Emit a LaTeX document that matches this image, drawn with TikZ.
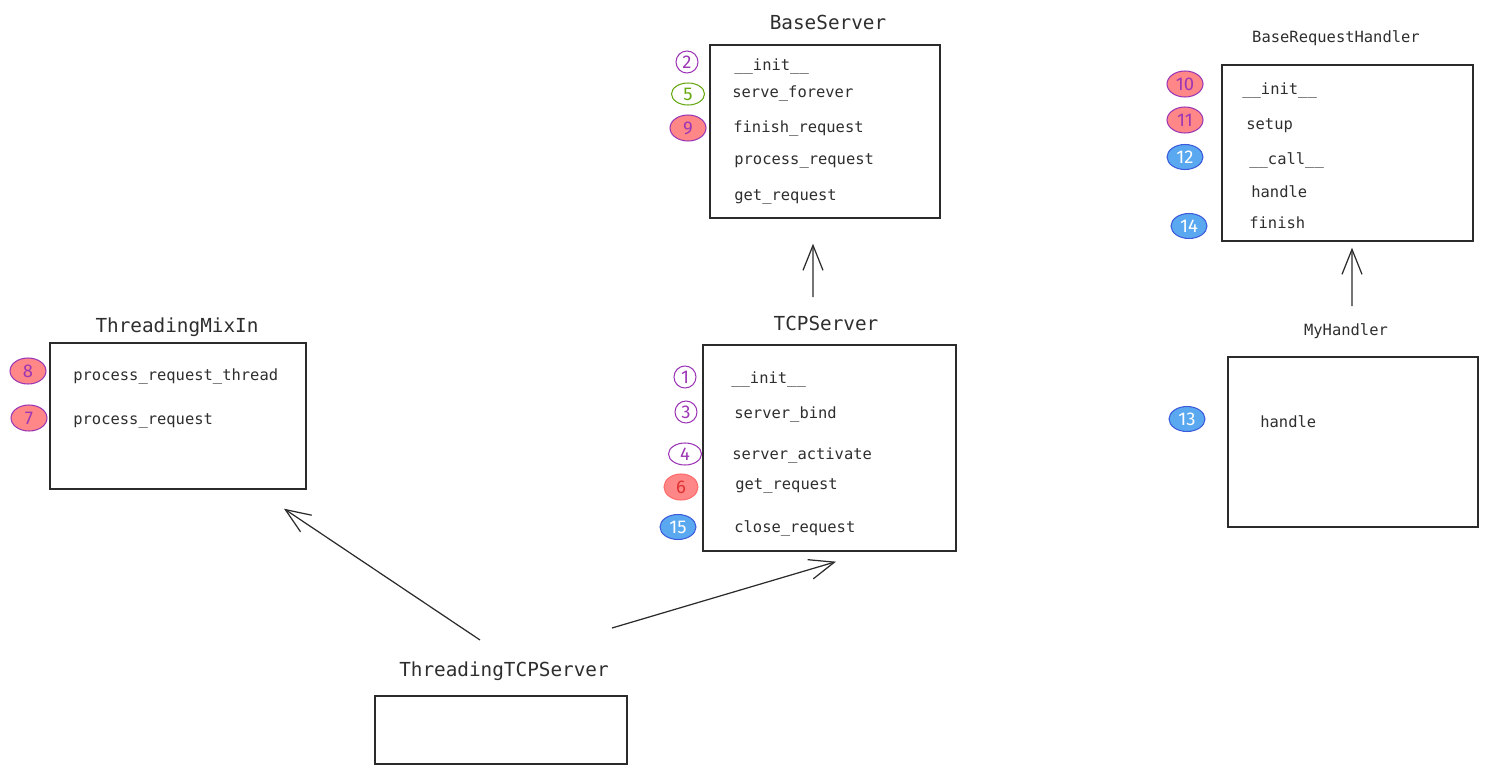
\documentclass[tikz,border=0pt]{standalone}
\usepackage{fontspec}
\setmonofont{DejaVu Sans Mono}
\newfontfamily\numfont{Fira Sans}
\usetikzlibrary{arrows.meta}
\usetikzlibrary{positioning}
\usetikzlibrary{shapes.geometric}

\definecolor{inkgray}{HTML}{2E2E2E}
\definecolor{boxline}{HTML}{2B2B2B}
\definecolor{violetmark}{HTML}{9C36B5}
\definecolor{limemark}{HTML}{66A80F}
\definecolor{salmonfill}{HTML}{FF8787}
\definecolor{redmark}{HTML}{E03131}
\definecolor{bluefill}{HTML}{5AA9F0}
\definecolor{bluemark}{HTML}{3B5BDB}

\begin{document}
\begin{tikzpicture}[x=0.02cm, y=-0.02cm,
    cls/.style={draw=boxline, line width=0.8pt, inner sep=0pt},
    title/.style={text=inkgray, font=\ttfamily\fontsize{11}{13}\selectfont},
    smalltitle/.style={text=inkgray, font=\ttfamily\fontsize{8.8}{11}\selectfont},
    meth/.style={anchor=mid west, inner sep=0pt, yshift=-0.05cm, text=inkgray, font=\ttfamily\fontsize{8.8}{11}\selectfont},
    tagring/.style={ellipse, draw=violetmark, text=violetmark, line width=0.6pt, inner sep=0pt,
        minimum width=0.44cm, minimum height=0.44cm, font=\numfont\fontsize{10.5}{12}\selectfont},
    tagoval/.style={tagring, draw=#1, text=#1, minimum width=0.66cm},
    tagred/.style={tagring, fill=salmonfill, minimum width=0.72cm, minimum height=0.52cm},
    tagblue/.style={tagring, fill=bluefill, draw=bluemark, text=white, minimum width=0.72cm, minimum height=0.5cm},
    link/.style={draw=boxline, line width=0.7pt, -{Straight Barb[length=0.5cm, width=0.4cm]}}]
    \useasboundingbox (0,0) rectangle (1488,774);

    % BaseServer
    \node[title] (baset) at (828,22) {BaseServer};
    \node[cls, minimum width=4.6cm, minimum height=3.46cm] (base) at (825,131.5) {};
    \node[meth] (b1) at (734,64) {\_\_init\_\_};
    \node[meth] (b2) at (732,91) {serve\_forever};
    \node[meth] (b3) at (733,126) {finish\_request};
    \node[meth] (b4) at (734,158) {process\_request};
    \node[meth] (b5) at (734,194) {get\_request};
    \node[tagring] (n2) at (687,62) {2};
    \node[tagoval=limemark] (n5) at (688,94) {5};
    \node[tagred] (n9) at (688,128) {9};

    % BaseRequestHandler
    \node[smalltitle] (brht) at (1336,38) {BaseRequestHandler};
    \node[cls, minimum width=5.02cm, minimum height=3.52cm] (brh) at (1347.5,153) {};
    \node[meth] (h1) at (1242,88) {\_\_init\_\_};
    \node[meth] (h2) at (1246,123) {setup};
    \node[meth] (h3) at (1249,158) {\_\_call\_\_};
    \node[meth] (h4) at (1251,191) {handle};
    \node[meth] (h5) at (1249,222) {finish};
    \node[tagred] (n10) at (1185,84) {10};
    \node[tagred] (n11) at (1185,120) {11};
    \node[tagblue] (n12) at (1185,157) {12};
    \node[tagblue] (n14) at (1189,226) {14};

    % MyHandler
    \node[smalltitle] (myht) at (1346,331) {MyHandler};
    \node[cls, minimum width=5.0cm, minimum height=3.4cm] (myh) at (1353,442) {};
    \node[meth] (m1) at (1260,421) {handle};
    \node[tagblue] (n13) at (1187,419) {13};

    % TCPServer
    \node[title] (tcpt) at (826,323) {TCPServer};
    \node[cls, minimum width=5.06cm, minimum height=4.12cm] (tcp) at (829.5,448) {};
    \node[meth] (t1) at (731,377) {\_\_init\_\_};
    \node[meth] (t2) at (734,412) {server\_bind};
    \node[meth] (t3) at (732,453) {server\_activate};
    \node[meth] (t4) at (735,483) {get\_request};
    \node[meth] (t5) at (734,526) {close\_request};
    \node[tagring] (n1) at (685,377) {1};
    \node[tagring] (n3) at (686,412) {3};
    \node[tagoval=violetmark] (n4) at (685,454) {4};
    \node[tagred, draw=salmonfill!80!red, text=redmark, minimum width=0.68cm] (n6) at (681,487) {6};
    \node[tagblue] (n15) at (678,527) {15};

    % ThreadingMixIn
    \node[title] (mixt) at (177,327) {ThreadingMixIn};
    \node[cls, minimum width=5.12cm, minimum height=2.92cm] (mix) at (178,416) {};
    \node[meth] (x1) at (73,374) {process\_request\_thread};
    \node[meth] (x2) at (73,418) {process\_request};
    \node[tagred] (n8) at (28,371) {8};
    \node[tagred] (n7) at (29,418) {7};

    % ThreadingTCPServer
    \node[title] (ttcpt) at (504,671) {ThreadingTCPServer};
    \node[cls, minimum width=5.04cm, minimum height=1.36cm] (ttcp) at (501,730) {};

    % inheritance
    \draw[link] ([xshift=-0.48cm, yshift=0.62cm]ttcpt.center) -- ([xshift=2.12cm, yshift=-0.38cm]mix.south);
    \draw[link] ([xshift=2.16cm, yshift=0.86cm]ttcpt.center) -- ([xshift=0.13cm, yshift=-0.2cm]tcp.south);
    \draw[link] ([xshift=-0.26cm, yshift=0.52cm]tcpt.center) -- ([xshift=-0.24cm, yshift=-0.5cm]base.south);
    \draw[link] ([xshift=0.12cm, yshift=0.5cm]myht.center) -- ([xshift=0.09cm, yshift=-0.12cm]brh.south);
\end{tikzpicture}
\end{document}
